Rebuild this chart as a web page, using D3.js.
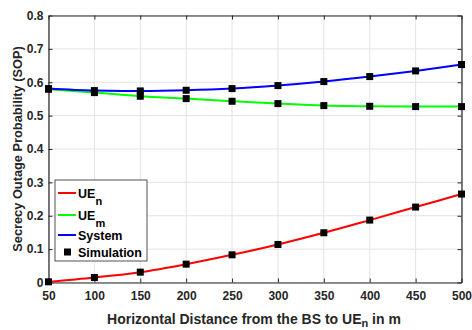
<!DOCTYPE html>
<html>
<head>
<meta charset="utf-8">
<script src="https://cdn.jsdelivr.net/npm/d3@7"></script>
<style>
  body { margin: 0; background: #fff; }
  text { font-family: "Liberation Sans", Arial, sans-serif; font-weight: bold; }
</style>
</head>
<body>
<svg id="chart" width="472" height="330"></svg>
<script>
// data
var distances = [50, 100, 150, 200, 250, 300, 350, 400, 450, 500];
var sopUEn = [0.002, 0.015, 0.031, 0.055, 0.083, 0.114, 0.149, 0.187, 0.226, 0.265];
var sopUEm = [0.579, 0.569, 0.558, 0.551, 0.543, 0.536, 0.530, 0.528, 0.527, 0.527];
var sopSystem = [0.581, 0.575, 0.574, 0.576, 0.581, 0.590, 0.602, 0.617, 0.634, 0.653];
var xTicks = [50, 100, 150, 200, 250, 300, 350, 400, 450, 500];
var yTicks = [0, 0.1, 0.2, 0.3, 0.4, 0.5, 0.6, 0.7, 0.8];

var series = [
    { name: "UEn", values: sopUEn, color: "#ff0000" },
    { name: "UEm", values: sopUEm, color: "#00ff00" },
    { name: "System", values: sopSystem, color: "#0000ff" }
];

var svg = d3.select("#chart"),
    plotLeft = 48.5, plotRight = 461.5, plotTop = 15.5, plotBottom = 282.5;

var x = d3.scaleLinear().domain([50, 500]).range([plotLeft, plotRight]);
var y = d3.scaleLinear().domain([0, 0.8]).range([plotBottom, plotTop]);

// grid
svg.append("g")
    .selectAll("line")
    .data(xTicks)
    .enter()
    .append("line")
    .attr("x1", d => x(d)).attr("x2", d => x(d))
    .attr("y1", plotTop).attr("y2", plotBottom)
    .attr("stroke", "#e3e3e3").attr("stroke-width", 1);
svg.append("g")
    .selectAll("line")
    .data(yTicks)
    .enter()
    .append("line")
    .attr("x1", plotLeft).attr("x2", plotRight)
    .attr("y1", d => y(d)).attr("y2", d => y(d))
    .attr("stroke", "#e3e3e3").attr("stroke-width", 1);

// axes (ticks inside, MATLAB style)
var axisColor = "#262626";
function styleAxis(g) {
    g.select(".domain").attr("stroke", axisColor).attr("stroke-width", 1.2);
    g.selectAll(".tick line").attr("stroke", axisColor);
    g.selectAll(".tick text").attr("fill", axisColor).style("font-size", "12px");
}
svg.append("g")
    .attr("transform", "translate(0," + plotBottom + ")")
    .call(d3.axisBottom(x).tickValues(xTicks).tickSizeInner(-4).tickSizeOuter(0).tickPadding(9))
    .call(styleAxis);
svg.append("g")
    .attr("transform", "translate(0," + plotTop + ")")
    .call(d3.axisTop(x).tickValues(xTicks).tickSizeInner(-4).tickSizeOuter(0).tickFormat(""))
    .call(styleAxis);
svg.append("g")
    .attr("transform", "translate(" + plotLeft + ",0)")
    .call(d3.axisLeft(y).tickValues(yTicks).tickSizeInner(-4).tickSizeOuter(0).tickPadding(5)
        .tickFormat(d => d === 0 ? "0" : d3.format(".1f")(d)))
    .call(styleAxis);
svg.append("g")
    .attr("transform", "translate(" + plotRight + ",0)")
    .call(d3.axisRight(y).tickValues(yTicks).tickSizeInner(-4).tickSizeOuter(0).tickFormat(""))
    .call(styleAxis);

// curves
var line = d3.line()
    .x((d, i) => x(distances[i]))
    .y(d => y(d))
    .curve(d3.curveMonotoneX);

series.forEach(function (s) {
    svg.append("path")
        .datum(s.values)
        .attr("d", line)
        .attr("fill", "none")
        .attr("stroke", s.color)
        .attr("stroke-width", 2);
});

// simulation markers
series.forEach(function (s) {
    svg.append("g")
        .selectAll("rect")
        .data(s.values)
        .enter()
        .append("rect")
        .attr("x", (d, i) => x(distances[i]) - 3.5)
        .attr("y", d => y(d) - 3.5)
        .attr("width", 7)
        .attr("height", 7)
        .attr("fill", "#000");
});

// axis labels
svg.append("text")
    .attr("x", 254).attr("y", 324)
    .attr("text-anchor", "middle")
    .style("font-size", "14px")
    .attr("fill", axisColor)
    .html('Horizontal Distance from the BS to UE<tspan dy="3" font-size="11px">n</tspan><tspan dy="-3"> in m</tspan>');

svg.append("text")
    .attr("transform", "translate(22," + ((plotTop + plotBottom) / 2) + ") rotate(-90)")
    .attr("text-anchor", "middle")
    .style("font-size", "12.8px")
    .attr("fill", axisColor)
    .text("Secrecy Outage Probability (SOP)");

// legend
var legend = svg.append("g");
legend.append("rect")
    .attr("x", 55).attr("y", 180).attr("width", 92).attr("height", 81)
    .attr("fill", "#fff").attr("stroke", axisColor).attr("stroke-width", 0.8);

var legendRows = [
    { label: "UE", sub: "n", color: "#ff0000", y: 193 },
    { label: "UE", sub: "m", color: "#00ff00", y: 215 },
    { label: "System", sub: null, color: "#0000ff", y: 235 },
    { label: "Simulation", sub: null, color: null, y: 252 }
];
legendRows.forEach(function (r) {
    if (r.color) {
        legend.append("line")
            .attr("x1", 58).attr("x2", 76)
            .attr("y1", r.y).attr("y2", r.y)
            .attr("stroke", r.color).attr("stroke-width", 2);
    } else {
        legend.append("rect")
            .attr("x", 64).attr("y", r.y - 3.5).attr("width", 7).attr("height", 7)
            .attr("fill", "#000");
    }
    var t = legend.append("text")
        .attr("x", 78).attr("y", r.y + 4.5)
        .style("font-size", "12.5px")
        .attr("fill", "#000")
        .text(r.label);
    if (r.sub) {
        t.append("tspan").attr("dy", 7).style("font-size", "11px").text(r.sub);
    }
});
</script>
</body>
</html>
